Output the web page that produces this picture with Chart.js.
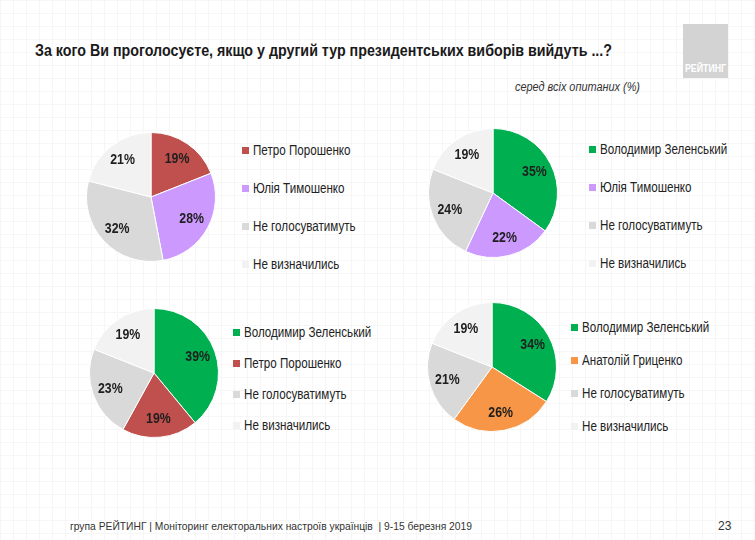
<!DOCTYPE html>
<html lang="uk">
<head>
<meta charset="utf-8">
<script src="https://cdn.jsdelivr.net/npm/chart.js@4/dist/chart.umd.min.js"></script>
<style>
    html, body { margin: 0; padding: 0; }
    body {
        width: 755px; height: 540px; position: relative; overflow: hidden;
        background-color: #fff;
        background-image:
            linear-gradient(#f6f6f6 1px, transparent 1px),
            linear-gradient(90deg, #f6f6f6 1px, transparent 1px);
        background-size: 13px 13px;
        font-family: 'Liberation Sans', Arial, sans-serif;
        color: #222;
    }
    .fit { transform-origin: 0 50%; white-space: nowrap; }
    .title { position: absolute; left: 35px; top: 41px; font-size: 16.5px; font-weight: bold; color: #1a1a1a; }
    .subtitle { position: absolute; left: 515px; top: 80px; font-size: 12px; font-style: italic; color: #333; }
    .logo { position: absolute; left: 683px; top: 24px; width: 45px; height: 54px; background: #d3d3d3; }
    .logo span { position: absolute; left: 2px; bottom: 4px; font-size: 10px; font-weight: bold; color: #fff; }
    .pie { position: absolute; width: 130px; height: 130px; }
    .legend { position: absolute; font-size: 14px; color: #222; }
    .legend div { position: absolute; left: 0; white-space: nowrap; line-height: 16px; }
    .legend i { display: inline-block; width: 7px; height: 7px; margin-right: 4px; vertical-align: 1px; }
    .legend span { display: inline-block; transform-origin: 0 50%; transform: scaleX(0.83); }
    .footer { position: absolute; left: 70px; top: 520px; font-size: 11px; color: #333; }
    .page { position: absolute; left: 718px; top: 519px; font-size: 12px; color: #333; }
</style>
</head>
<body>
<div class="title fit" data-w="577">За кого Ви проголосуєте, якщо у другий тур президентських виборів вийдуть ...?</div>
<div class="subtitle fit" data-w="125">серед всіх опитаних (%)</div>
<div class="logo"><span class="fit" data-w="41">РЕЙТИНГ</span></div>

<canvas id="pie1" class="pie" width="130" height="130" style="left:86px;top:132px"></canvas>
<canvas id="pie2" class="pie" width="130" height="130" style="left:428px;top:128px"></canvas>
<canvas id="pie3" class="pie" width="130" height="130" style="left:89px;top:308px"></canvas>
<canvas id="pie4" class="pie" width="130" height="130" style="left:427px;top:302px"></canvas>

<div id="legend1" class="legend" style="left:242px;top:142px"></div>
<div id="legend2" class="legend" style="left:589px;top:141px"></div>
<div id="legend3" class="legend" style="left:233px;top:324px"></div>
<div id="legend4" class="legend" style="left:571px;top:319px"></div>

<div class="footer fit" data-w="402">група РЕЙТИНГ | Моніторинг електоральних настроїв українців &nbsp;| 9-15 березня 2019</div>
<div class="page">23</div>

<script>
// кандидати та категорії
const labels1 = ['Петро Порошенко', 'Юлія Тимошенко', 'Не голосуватимуть', 'Не визначились'];
const labels2 = ['Володимир Зеленський', 'Юлія Тимошенко', 'Не голосуватимуть', 'Не визначились'];
const labels3 = ['Володимир Зеленський', 'Петро Порошенко', 'Не голосуватимуть', 'Не визначились'];
const labels4 = ['Володимир Зеленський', 'Анатолій Гриценко', 'Не голосуватимуть', 'Не визначились'];

// значення (%)
const values1 = [19, 28, 32, 21];
const values2 = [35, 22, 24, 19];
const values3 = [39, 19, 23, 19];
const values4 = [34, 26, 21, 19];

// кольори
const colors1 = ['#c0504d', '#cc99ff', '#d9d9d9', '#f2f2f2'];
const colors2 = ['#00b050', '#cc99ff', '#d9d9d9', '#f2f2f2'];
const colors3 = ['#00b050', '#c0504d', '#d9d9d9', '#f2f2f2'];
const colors4 = ['#00b050', '#f79646', '#d9d9d9', '#f2f2f2'];

// підписи відсотків всередині секторів
const percentLabels = {
    id: 'percentLabels',
    afterDatasetsDraw(chart) {
        const ctx = chart.ctx;
        const meta = chart.getDatasetMeta(0);
        const values = chart.data.datasets[0].data;
        ctx.save();
        ctx.font = 'bold 14.5px "Liberation Sans", Arial, sans-serif';
        ctx.fillStyle = '#1e1e1e';
        ctx.textAlign = 'center';
        ctx.textBaseline = 'middle';
        meta.data.forEach((arc, i) => {
            const mid = (arc.startAngle + arc.endAngle) / 2;
            const r = arc.outerRadius * 0.72;
            ctx.save();
            ctx.translate(arc.x + Math.cos(mid) * r, arc.y + Math.sin(mid) * r);
            ctx.scale(0.85, 1);
            ctx.fillText(values[i] + '%', 0, 0);
            ctx.restore();
        });
        ctx.restore();
    }
};

function renderPie(id, labels, values, colors) {
    new Chart(document.getElementById(id), {
        type: 'pie',
        data: {
            labels: labels,
            datasets: [{
                data: values,
                backgroundColor: colors,
                borderColor: '#ffffff',
                borderWidth: 1
            }]
        },
        options: {
            responsive: false,
            animation: false,
            layout: { padding: 0 },
            plugins: {
                legend: { display: false },
                tooltip: { enabled: false }
            }
        },
        plugins: [percentLabels]
    });
}

function renderLegend(id, labels, colors, gap) {
    const box = document.getElementById(id);
    labels.forEach((label, i) => {
        const row = document.createElement('div');
        row.style.top = (i * gap) + 'px';
        const sw = document.createElement('i');
        sw.style.background = colors[i];
        const txt = document.createElement('span');
        txt.textContent = label;
        row.appendChild(sw);
        row.appendChild(txt);
        box.appendChild(row);
    });
}

// підгонка ширини вузького шрифту
document.querySelectorAll('.fit').forEach(el => {
    const w = el.getBoundingClientRect().width;
    el.style.transform = 'scaleX(' + (el.dataset.w / w) + ')';
});

renderPie('pie1', labels1, values1, colors1);
renderPie('pie2', labels2, values2, colors2);
renderPie('pie3', labels3, values3, colors3);
renderPie('pie4', labels4, values4, colors4);

renderLegend('legend1', labels1, colors1, 38);
renderLegend('legend2', labels2, colors2, 38);
renderLegend('legend3', labels3, colors3, 31);
renderLegend('legend4', labels4, colors4, 33);
</script>
</body>
</html>
